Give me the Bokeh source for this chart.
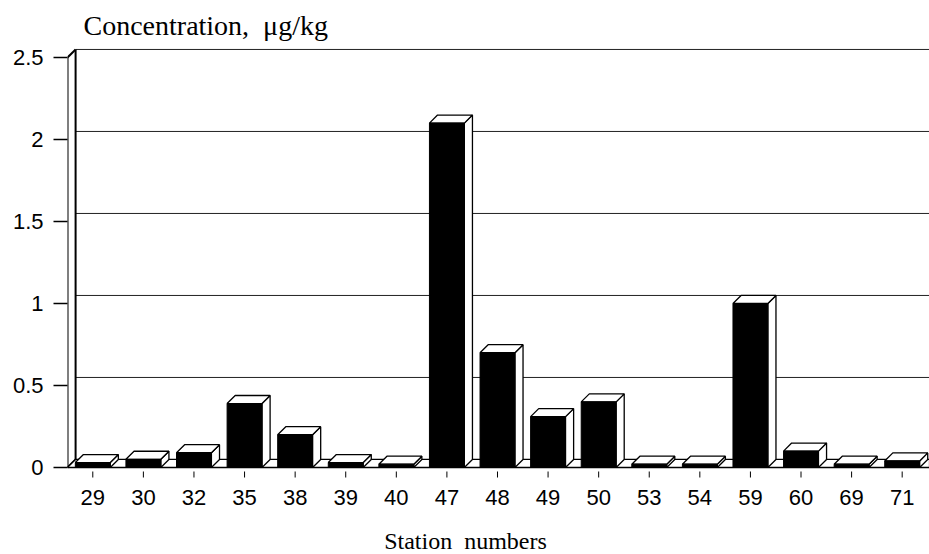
from bokeh.plotting import figure
from bokeh.models import Range1d, FixedTicker, Label
from bokeh.core.properties import value
from bokeh.embed import file_html
from bokeh.resources import INLINE

# ---- data ----
stations = ["29", "30", "32", "35", "38", "39", "40", "47", "48",
            "49", "50", "53", "54", "59", "60", "69", "71"]
conc = [0.03, 0.05, 0.09, 0.39, 0.20, 0.03, 0.02, 2.10, 0.70,
        0.31, 0.40, 0.02, 0.02, 1.00, 0.10, 0.02, 0.04]
y_ticks = [0, 0.5, 1, 1.5, 2, 2.5]
y_tick_labels = ["0", "0.5", "1", "1.5", "2", "2.5"]

# ---- styling constants (3-D look, layout) ----
W = 0.69      # bar front width (category units)
DX = 0.16     # depth offset, x
DY = 0.049    # depth offset, y
X0 = -0.5
X1 = len(stations) - 0.5 + 0.04
YMAX = y_ticks[-1]
H = 554
BASE_PX = 467          # pixel row of value 0
PX = 1.0 / 164         # data units per pixel (vertical)
Y_LO = -(H - BASE_PX) * PX
Y_HI = BASE_PX * PX

p = figure(width=929, height=H, output_backend="svg", toolbar_location=None,
           x_range=Range1d(X0, X1), y_range=Range1d(Y_LO, Y_HI),
           min_border_left=67, min_border_right=0, min_border_top=0,
           min_border_bottom=0)
p.outline_line_color = None
p.grid.visible = False
p.background_fill_color = "white"
p.border_fill_color = "white"
p.xaxis.visible = False

# back wall: gridlines + top edge
p.multi_line(xs=[[X0 + DX, X1] for v in y_ticks[1:]],
             ys=[[v + DY, v + DY] for v in y_ticks[1:]],
             line_color="#222222", line_width=1)
# left wall
p.multi_line(xs=[[X0, X0], [X0 + DX, X0 + DX], [X0, X0 + DX], [X0, X0 + DX]],
             ys=[[0, YMAX], [DY, YMAX + DY], [YMAX, YMAX + DY], [0, DY]],
             line_color="black", line_width=2)
# floor
p.patch(x=[X0, X1, X1, X0 + DX], y=[0, 0, DY, DY],
        fill_color="white", line_color="black", line_width=1.2)

xs = list(range(len(stations)))
# side faces
p.patches(xs=[[i + W / 2, i + W / 2 + DX, i + W / 2 + DX, i + W / 2] for i in xs],
          ys=[[0, DY, v + DY, v] for v in conc],
          fill_color="white", line_color="black", line_width=1.3)
# top faces
p.patches(xs=[[i - W / 2, i + W / 2, i + W / 2 + DX, i - W / 2 + DX] for i in xs],
          ys=[[v, v, v + DY, v + DY] for v in conc],
          fill_color="white", line_color="black", line_width=1.3)
# front faces
p.vbar(x=xs, top=conc, bottom=0, width=W, fill_color="black", line_color="black")

# x axis (drawn at value 0): baseline, detached ticks, station labels
p.segment(x0=[X0], y0=[0], x1=[X1], y1=[0], line_color="black", line_width=1.5)
p.segment(x0=xs, y0=[-4 * PX] * len(xs), x1=xs, y1=[-10 * PX] * len(xs),
          line_color="black", line_width=1)
p.text(x=xs, y=[-30 * PX] * len(xs), text=stations,
       text_font=value("Liberation Sans"), text_font_size="22px",
       text_color="black", text_align="center", text_baseline="middle")

# y axis
ya = p.yaxis[0]
ya.ticker = FixedTicker(ticks=y_ticks)
ya.major_label_overrides = {t: s for t, s in zip(y_ticks, y_tick_labels)}
ya.minor_tick_line_color = None
ya.axis_line_color = None
ya.major_tick_in = 0
ya.major_tick_out = 14
ya.major_tick_line_width = 1.5
ya.major_label_standoff = 10
ya.major_label_text_font = "Liberation Sans"
ya.major_label_text_font_size = "22px"
ya.major_label_text_color = "black"

# titles (screen units, relative to the frame's bottom-left corner)
p.add_layout(Label(x=16, y=H - 25, x_units="screen", y_units="screen",
                   text="Concentration,\u00a0\u00a0\u03bcg/kg",
                   text_font="Liberation Serif", text_font_size="28px",
                   text_color="black", text_align="left",
                   text_baseline="middle"))
p.add_layout(Label(x=398, y=H - 540, x_units="screen", y_units="screen",
                   text="Station\u00a0\u00a0numbers",
                   text_font="Liberation Serif", text_font_size="24px",
                   text_color="black", text_align="center",
                   text_baseline="middle"))

open("out.html", "w").write(file_html(p, INLINE))
